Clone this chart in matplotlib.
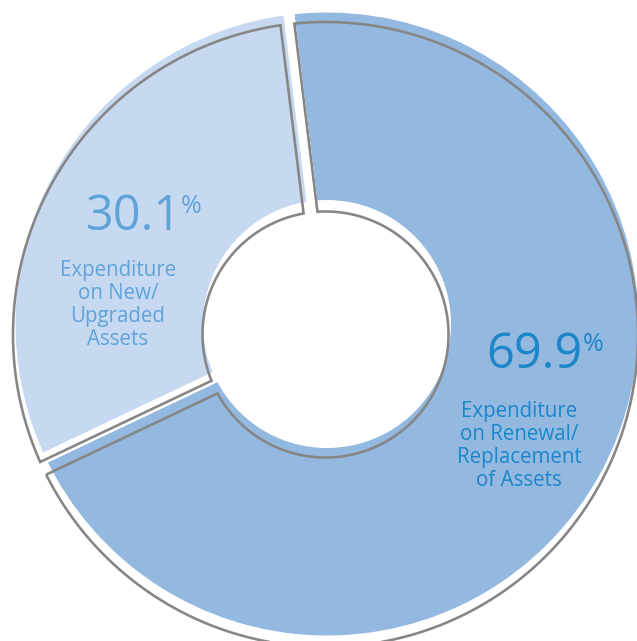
import numpy as np
import matplotlib
matplotlib.use("Agg")
import matplotlib.pyplot as plt
from matplotlib.patches import Polygon

# ---- data ----
categories = ["Expenditure\non Renewal/\nReplacement\nof Assets",
              "Expenditure\non New/\nUpgraded\nAssets"]
values = [69.9, 30.1]
value_labels = ["69.9", "30.1"]
fill_colors = ["#94B9E1", "#C6D9F1"]
text_colors = ["#1B86C8", "#5FA3D9"]
outline_color = "#868686"

W, H = 637, 641
fig = plt.figure(figsize=(W / 100, H / 100), dpi=100)
ax = fig.add_axes([0, 0, 1, 1])
px2pt = 72 / 100


def py(y):
    return H - y


# fill ring
cx, cy = 327, py(324)
R_vis, r_vis = 311.5, 124
gap_f = 5.5
start = 97

wedges, _ = ax.pie(values, colors=fill_colors, startangle=start, counterclock=False,
                   center=(cx, cy), radius=R_vis + gap_f, frame=False,
                   wedgeprops=dict(width=R_vis - r_vis + 2 * gap_f, edgecolor="white",
                                   linewidth=2 * gap_f * px2pt, joinstyle="miter"))

# outline ring (offset copy)
ocx, ocy = cx - 1.5, cy - 10.5
R_o, r_o, gap_o = 312.5, 123, 7
owedges, _ = ax.pie(values, startangle=start, counterclock=False,
                    center=(ocx, ocy), radius=R_o + gap_o, frame=False,
                    wedgeprops=dict(width=R_o - r_o + 2 * gap_o, facecolor="none",
                                    edgecolor="none", linewidth=0))


def inset_outline(w, o, n=300):
    x0, y0 = w.center
    R = w.r
    r = R - w.width
    t1, t2 = w.theta1, w.theta2
    ro, ri = R - o, r + o
    da = np.degrees(np.arcsin(o / ro))
    db = np.degrees(np.arcsin(o / ri))
    a = np.radians(np.linspace(t1 + da, t2 - da, n))
    b = np.radians(np.linspace(t2 - db, t1 + db, n))
    xs = np.concatenate([x0 + ro * np.cos(a), x0 + ri * np.cos(b)])
    ys = np.concatenate([y0 + ro * np.sin(a), y0 + ri * np.sin(b)])
    return np.column_stack([xs, ys])


for w in owedges:
    ax.add_patch(Polygon(inset_outline(w, gap_o), closed=True, fill=False,
                         edgecolor=outline_color, linewidth=2.6 * px2pt,
                         joinstyle="miter", zorder=3))

font = ["Open Sans", "DejaVu Sans"]

# big slice labels
ax.text(486, py(368), value_labels[0], color=text_colors[0], fontsize=35,
        family=font, ha="left", va="baseline", zorder=5)
ax.text(583, py(351), "%", color=text_colors[0], fontsize=18,
        family=font, ha="left", va="baseline", zorder=5)
ax.text(519, py(446), categories[0], color=text_colors[0], fontsize=14.8,
        family=font, ha="center", va="center", multialignment="center",
        linespacing=1.12, zorder=5)

# small slice labels
ax.text(85.5, py(230), value_labels[1], color=text_colors[1], fontsize=35,
        family=font, ha="left", va="baseline", zorder=5)
ax.text(181, py(213), "%", color=text_colors[1], fontsize=18,
        family=font, ha="left", va="baseline", zorder=5)
ax.text(118, py(305), categories[1], color=text_colors[1], fontsize=14.8,
        family=font, ha="center", va="center", multialignment="center",
        linespacing=1.12, zorder=5)

ax.set_xlim(0, W)
ax.set_ylim(0, H)
ax.set_aspect("auto")
ax.axis("off")

fig.savefig("out.png", dpi=100)
